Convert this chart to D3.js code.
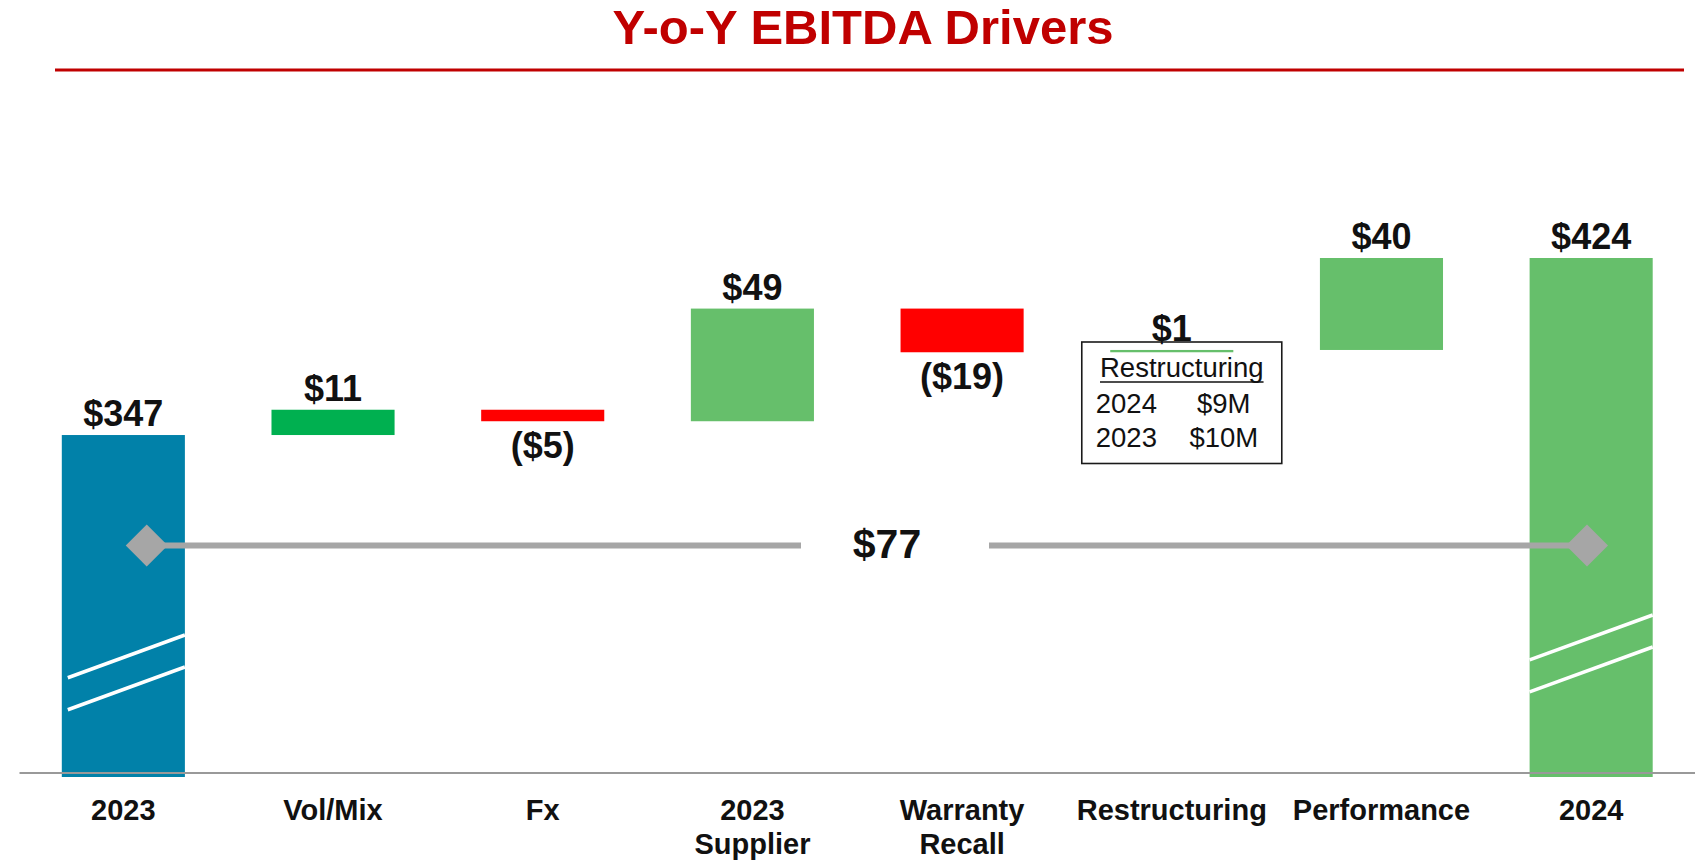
<!DOCTYPE html>
<html>
<head>
<meta charset="utf-8">
<script src="https://cdnjs.cloudflare.com/ajax/libs/d3/7.8.5/d3.min.js"></script>
<style>
  html, body { margin: 0; padding: 0; background: #fff; }
  svg { display: block; font-family: "Liberation Sans", Arial, sans-serif; }
</style>
</head>
<body>
<svg id="chart" width="1698" height="862"></svg>
<script>
//  data
const categories = ["2023", "Vol/Mix", "Fx", "2023 Supplier", "Warranty Recall", "Restructuring", "Performance", "2024"];
const category_lines = [["2023"], ["Vol/Mix"], ["Fx"], ["2023", "Supplier"], ["Warranty", "Recall"], ["Restructuring"], ["Performance"], ["2024"]];
const values = [347, 11, -5, 49, -19, 1, 40, 424];
const is_total = [true, false, false, false, false, false, false, true];
const change_label = "$77";
const box_title = "Restructuring";
const box_years = ["2024", "2023"];
const box_amounts = ["$9M", "$10M"];

//  colours
const fill_of = {
  "2023": "#0181A9",
  "Vol/Mix": "#00B050",
  "Fx": "#FF0000",
  "2023 Supplier": "#66BF6B",
  "Warranty Recall": "#FF0000",
  "Restructuring": "#66BF6B",
  "Performance": "#66BF6B",
  "2024": "#66BF6B"
};
const grey = "#A6A6A6";

function fmt(v) {
  return v < 0 ? `($${-v})` : `$${v}`;
}

//  draw
function draw_waterfall() {
  const svg = d3.select("#chart");
  const font_bold = "bold";

  // title
  svg.append("text")
    .attr("x", 863).attr("y", 44)
    .attr("text-anchor", "middle")
    .attr("font-size", 49).attr("font-weight", font_bold)
    .attr("fill", "#C00000")
    .text("Y-o-Y EBITDA Drivers");
  svg.append("line")
    .attr("x1", 55).attr("x2", 1684).attr("y1", 70).attr("y2", 70)
    .attr("stroke", "#C00000").attr("stroke-width", 3);

  // running totals
  let run = 0;
  const bars = categories.map((c, i) => {
    let lo, hi;
    if (is_total[i]) { lo = null; hi = values[i]; run = values[i]; }
    else { const s = run; run += values[i]; lo = Math.min(s, run); hi = Math.max(s, run); }
    return {cat: c, v: values[i], lo: lo, hi: hi, total: is_total[i]};
  });

  const x = d3.scaleBand().domain(categories).range([18.5, 1696])
    .paddingInner(0.413).paddingOuter(0.2065);
  const base = 200;  // broken axis floor
  const y = d3.scaleLinear().domain([base, 424]).range([773, 258]);

  // restructuring note box (behind bars)
  const bx = x("Restructuring") + x.bandwidth() / 2;
  const box = svg.append("g");
  box.append("rect")
    .attr("x", bx - 90).attr("y", 342).attr("width", 200).attr("height", 121.5)
    .attr("fill", "#fff").attr("stroke", "#1a1a1a").attr("stroke-width", 1.6);
  const tt = box.append("text")
    .attr("x", bx + 10).attr("y", 377).attr("text-anchor", "middle")
    .attr("font-size", 27.5).attr("fill", "#111").text(box_title);
  const tw = tt.node().getComputedTextLength();
  box.append("line")
    .attr("x1", bx + 10 - tw / 2).attr("x2", bx + 10 + tw / 2)
    .attr("y1", 382).attr("y2", 382)
    .attr("stroke", "#111").attr("stroke-width", 1.6);
  box_years.forEach((yr, i) => {
    box.append("text")
      .attr("x", bx - 76).attr("y", 412.5 + i * 34.7)
      .attr("font-size", 27.5).attr("fill", "#111").text(yr);
    box.append("text")
      .attr("x", bx + 52).attr("y", 412.5 + i * 34.7).attr("text-anchor", "middle")
      .attr("font-size", 27.5).attr("fill", "#111").text(box_amounts[i]);
  });

  // bars
  svg.append("g").selectAll("rect")
    .data(bars).join("rect")
      .attr("x", d => x(d.cat))
      .attr("width", x.bandwidth())
      .attr("y", d => y(d.hi))
      .attr("height", d => d.total ? y(base) + 4 - y(d.hi) : Math.max(y(d.lo) - y(d.hi), 2))
      .attr("fill", d => fill_of[d.cat]);

  // axis break marks on the total bars
  const breaks = [{cat: "2023", rise: 138, inset: 6}, {cat: "2024", rise: 158, inset: 0}];
  breaks.forEach(b => {
    const x0 = x(b.cat) + b.inset, x1 = x(b.cat) + x.bandwidth();
    [0, 32].forEach(off => {
      svg.append("line")
        .attr("x1", x0).attr("x2", x1)
        .attr("y1", y(base) - b.rise + (x1 - x0) * 0.365 + off)
        .attr("y2", y(base) - b.rise + off)
        .attr("stroke", "#fff").attr("stroke-width", 3.5);
    });
  });

  // value labels
  svg.append("g").selectAll("text")
    .data(bars).join("text")
      .attr("x", d => x(d.cat) + x.bandwidth() / 2)
      .attr("y", d => d.v < 0 ? y(d.lo) + 37 : y(d.hi) - 9)
      .attr("text-anchor", "middle")
      .attr("font-size", 36).attr("font-weight", font_bold)
      .attr("fill", "#111")
      .text(d => fmt(d.v));

  // x axis
  const gx = svg.append("g")
    .attr("transform", `translate(0,${y(base)})`)
    .call(d3.axisBottom(x).tickSize(0).tickFormat(""));
  gx.select(".domain").attr("stroke", "#999").attr("stroke-width", 2)
    .attr("d", "M19.5,0H1695");
  gx.selectAll(".tick").each(function(c) {
    const t = d3.select(this).append("text")
      .attr("y", 46.5).attr("text-anchor", "middle")
      .attr("font-size", 29).attr("font-weight", font_bold)
      .attr("fill", "#111");
    category_lines[categories.indexOf(c)].forEach((ln, j) => {
      t.append("tspan").attr("x", 0).attr("dy", j ? 34 : 0).text(ln);
    });
  });

  // change connector
  const cy = y(299);
  const xa = x("2023") + x.bandwidth() * 0.69;
  const xb = x("2024") + x.bandwidth() * 0.466;
  const xm = 887;
  svg.append("line").attr("x1", xa).attr("x2", xm - 86).attr("y1", cy).attr("y2", cy)
    .attr("stroke", grey).attr("stroke-width", 6);
  svg.append("line").attr("x1", xm + 102).attr("x2", xb).attr("y1", cy).attr("y2", cy)
    .attr("stroke", grey).attr("stroke-width", 6);
  [xa, xb].forEach(px => {
    svg.append("path")
      .attr("d", d3.symbol(d3.symbolSquare, 2 * 21 * 21)())
      .attr("transform", `translate(${px},${cy}) rotate(45)`)
      .attr("fill", grey);
  });
  svg.append("text")
    .attr("x", xm).attr("y", cy + 12.5).attr("text-anchor", "middle")
    .attr("font-size", 41).attr("font-weight", font_bold).attr("fill", "#111")
    .text(change_label);
}

draw_waterfall();
</script>
</body>
</html>
